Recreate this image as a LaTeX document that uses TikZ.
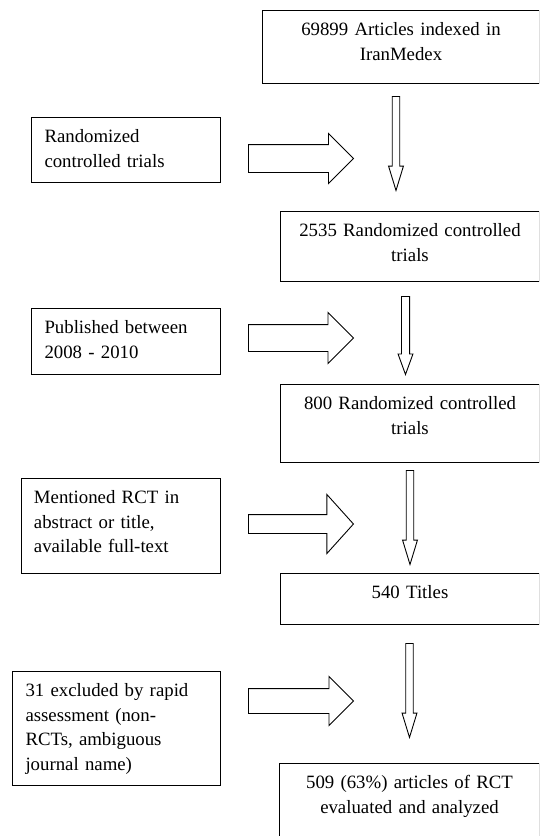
\documentclass[tikz,border=0pt]{standalone}
\usepackage{fontspec}
\setmainfont{Liberation Serif}
\usetikzlibrary{shapes.arrows}

\begin{document}
\begin{tikzpicture}[x=1pt,y=-1pt,
  box/.style={draw, line width=1pt, anchor=north west, inner xsep=13pt, inner ysep=12.5pt,
    text height=12.5pt, font=\fontsize{18.8}{24.5}\selectfont},
  mainbox/.style={box, align=center},
  sidebox/.style={box, align=left},
  rarrow/.style={draw, line width=0.9pt, single arrow, anchor=tail, inner xsep=0pt, minimum height=105pt},
  darrow/.style={draw, line width=0.9pt, single arrow, shape border rotate=270, anchor=tail,
    inner ysep=0pt, inner xsep=3.3pt, single arrow head extend=3.7pt, single arrow tip angle=34}]
\useasboundingbox (0,0) rectangle (539,836);
\clip (0,0) rectangle (539,836);

% main column
\node[mainbox, text width=251pt, text depth=35.5pt] (all) at (262,10) {69899 Articles indexed in\\IranMedex};
\node[mainbox, text width=233pt, text depth=32.5pt] (rct) at (280,211) {2535 Randomized controlled\\trials};
\node[mainbox, text width=233pt, text depth=40.5pt] (years) at (280,384) {800 Randomized controlled\\trials};
\node[mainbox, text width=233pt, text depth=13.5pt] (titles) at (280,573) {540 Titles};
\node[mainbox, text width=234pt, text depth=62.5pt] (final) at (279,763) {509 (63\%) articles of RCT\\evaluated and analyzed};

% criteria on the left
\node[sidebox, text width=163pt, text depth=27.5pt] (crit1) at (31,117) {Randomized\\controlled trials};
\node[sidebox, text width=163pt, text depth=28.5pt] (crit2) at (31,308) {Published between\\2008 - 2010};
\node[sidebox, text width=173pt, text depth=57.5pt] (crit3) at (20.5,478) {Mentioned RCT in\\abstract or title,\\available full-text};
\node[sidebox, text width=182pt, text depth=76.5pt] (crit4) at (12,671) {31 excluded by rapid\\assessment (non-\\RCTs, ambiguous\\journal name)};

% block arrows
\node[rarrow, inner ysep=13.5pt, single arrow head extend=11pt] (in1) at (248,158.5) {};
\node[rarrow, inner ysep=13pt, single arrow head extend=12pt] (in2) at (248,338) {};
\node[rarrow, inner ysep=9pt, single arrow head extend=20pt, single arrow tip angle=96] (in3) at (248,524) {};
\node[rarrow, inner ysep=12pt, single arrow head extend=12pt] (in4) at (248,701) {};

\node[darrow, minimum height=94pt] (down1) at (396,96) {};
\node[darrow, minimum height=78pt, inner xsep=3.6pt, single arrow head extend=3.4pt, single arrow tip angle=40] (down2) at (405.5,296) {};
\node[darrow, minimum height=94pt] (down3) at (410,470) {};
\node[darrow, minimum height=94pt] (down4) at (409.5,643) {};
\end{tikzpicture}
\end{document}
